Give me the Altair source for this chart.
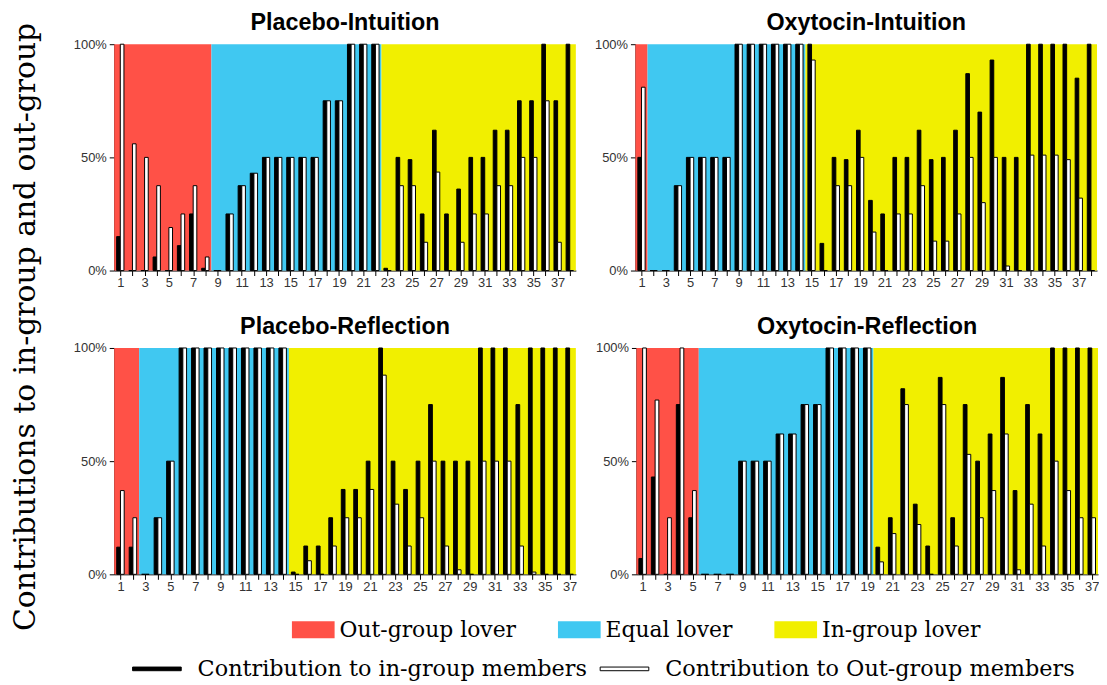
import altair as alt
import pandas as pd

# ---------------- data ----------------
GROUPS = ["Out-group lover", "Equal lover", "In-group lover"]
GROUP_COLORS = ["#FF5147", "#40C8F1", "#F1EF00"]
SERIES = ["Contribution to in-group members", "Contribution to Out-group members"]
SERIES_COLORS = ["black", "white"]

# Placebo-Intuition (38 participants)
pi_title = "Placebo-Intuition"
pi_counts = [8, 14, 16]
pi_in = [0.15, 0, 0, 0.06, 0, 0.11, 0.25, 0.01,
         0, 0.25, 0.375, 0.43, 0.5, 0.5, 0.5, 0.5, 0.5, 0.75, 0.75, 1, 1, 1,
         0.01, 0.5, 0.49, 0.25, 0.62, 0.25, 0.36, 0.5, 0.5, 0.62, 0.62, 0.75, 0.75, 1, 0.75, 1]
pi_out = [1, 0.56, 0.5, 0.375, 0.19, 0.25, 0.375, 0.06,
          0, 0.25, 0.375, 0.43, 0.5, 0.5, 0.5, 0.5, 0.5, 0.75, 0.75, 1, 1, 1,
          0, 0.375, 0.375, 0.125, 0.435, 0, 0.125, 0.25, 0.25, 0.375, 0.375, 0.5, 0.5, 0.75, 0.125, 0]

# Oxytocin-Intuition (38 participants)
oi_title = "Oxytocin-Intuition"
oi_counts = [1, 13, 24]
oi_in = [0.5,
         0, 0, 0.375, 0.5, 0.5, 0.5, 0.5, 1, 1, 1, 1, 1, 1,
         1, 0.12, 0.5, 0.49, 0.62, 0.31, 0.25, 0.5, 0.5, 0.62, 0.49, 0.5, 0.62, 0.87, 0.70, 0.93,
         0.5, 0.5, 1, 1, 1, 1, 0.85, 1]
oi_out = [0.81,
          0, 0, 0.375, 0.5, 0.5, 0.5, 0.5, 1, 1, 1, 1, 1, 1,
          0.93, 0, 0.375, 0.375, 0.5, 0.17, 0, 0.25, 0.25, 0.375, 0.13, 0.13, 0.25, 0.5, 0.30, 0.5,
          0.02, 0, 0.51, 0.51, 0.51, 0.49, 0.32, 0]

# Placebo-Reflection (37 participants)
pr_title = "Placebo-Reflection"
pr_counts = [2, 12, 23]
pr_in = [0.12, 0.12,
         0, 0.25, 0.5, 1, 1, 1, 1, 1, 1, 1, 1, 1,
         0.01, 0.125, 0.125, 0.25, 0.375, 0.375, 0.5, 1, 0.5, 0.375, 0.5, 0.75, 0.5, 0.5, 0.5,
         1, 1, 1, 0.75, 1, 1, 1, 1]
pr_out = [0.37, 0.25,
          0, 0.25, 0.5, 1, 1, 1, 1, 1, 1, 1, 1, 1,
          0, 0.06, 0, 0.125, 0.25, 0.25, 0.375, 0.88, 0.31, 0.125, 0.25, 0.5, 0.125, 0.02, 0,
          0.5, 0.5, 0.5, 0.125, 0.01, 0, 0, 0]

# Oxytocin-Reflection (37 participants)
or_title = "Oxytocin-Reflection"
or_counts = [5, 14, 18]
or_in = [0.07, 0.43, 0, 0.75, 0.25,
         0, 0, 0, 0.5, 0.5, 0.5, 0.62, 0.62, 0.75, 0.75, 1, 1, 1, 1,
         0.12, 0.25, 0.82, 0.31, 0.125, 0.87, 0.25, 0.75, 0.5, 0.62, 0.87, 0.37, 0.75, 0.62,
         1, 1, 1, 1]
or_out = [1, 0.77, 0.25, 1, 0.37,
          0, 0, 0, 0.5, 0.5, 0.5, 0.62, 0.62, 0.75, 0.75, 1, 1, 1, 1,
          0.055, 0.18, 0.75, 0.22, 0, 0.75, 0.125, 0.53, 0.25, 0.37, 0.62, 0.02, 0.31, 0.125,
          0.5, 0.37, 0.25, 0.25]

Y_TITLE = "Contributions to in-group and out-group"

# ---------------- styling ----------------
W, H = 465, 228
SANS = "Liberation Sans"
SERIF = "DejaVu Serif"

group_legend = alt.Legend(
    title=None, orient="none", legendX=179, legendY=568, direction="horizontal",
    symbolType="M-1,-0.4H1V0.4H-1Z", symbolSize=1849, symbolStrokeWidth=0,
    symbolOpacity=1, labelFont=SERIF, labelFontSize=22, labelColor="black",
    labelOffset=5, columnPadding=42, labelLimit=400,
)
series_legend = alt.Legend(
    title=None, orient="none", legendX=18, legendY=604, direction="horizontal",
    symbolType="M-1,-0.075H1V0.075H-1Z", symbolSize=2401,
    symbolStrokeColor="black", symbolStrokeWidth=1,
    labelFont=SERIF, labelFontSize=22.5, labelColor="black",
    labelOffset=16, columnPadding=10, labelLimit=500,
)


def panel(title, counts, ing, outg):
    n = len(ing)
    starts, ends, acc = [], [], 0
    for c in counts:
        starts.append(acc + 0.5)
        acc += c
        ends.append(acc + 0.5)
    regions = pd.DataFrame({"grp": GROUPS, "start": starts, "end": ends})
    bars = pd.DataFrame({
        "p": list(range(1, n + 1)) * 2,
        "series": [SERIES[0]] * n + [SERIES[1]] * n,
        "v": ing + outg,
    })
    xscale = alt.Scale(domain=[0.5, n + 0.5], nice=False, zero=False)
    xaxis = alt.Axis(
        values=list(range(1, n + 1)),
        labelExpr="datum.value % 2 == 1 ? datum.label : ''",
        labelFont=SANS, labelFontSize=13, labelColor="#333", labelAngle=0,
        labelOverlap=False, labelFlush=False, labelPadding=1,
        tickColor="black", tickSize=5, domainColor="black", grid=False, title=None,
    )
    yscale = alt.Scale(domain=[0, 1], nice=False)
    yaxis = alt.Axis(
        values=[0, 0.5, 1], format=".0%", labelFont=SANS, labelFontSize=13,
        labelColor="#333", tickColor="black", tickSize=5, domainColor="black",
        grid=False, title=None, labelPadding=3,
    )
    bg = alt.Chart(regions).mark_rect().encode(
        x=alt.X("start:Q", scale=xscale, axis=xaxis),
        x2="end:Q",
        y=alt.YDatum(0, scale=yscale, title=None),
        y2=alt.Y2Datum(1),
        color=alt.Color("grp:N", scale=alt.Scale(domain=GROUPS, range=GROUP_COLORS),
                        legend=group_legend),
    )
    br = alt.Chart(bars).mark_rect(stroke="black", strokeWidth=1).transform_calculate(
        xa=f"datum.series === '{SERIES[0]}' ? datum.p - 0.3 : datum.p",
        xb=f"datum.series === '{SERIES[0]}' ? datum.p : datum.p + 0.3",
    ).encode(
        x=alt.X("xa:Q", scale=xscale, axis=xaxis),
        x2="xb:Q",
        y=alt.Y("v:Q", scale=yscale, axis=yaxis),
        y2=alt.Y2Datum(0),
        fill=alt.Fill("series:N", scale=alt.Scale(domain=SERIES, range=SERIES_COLORS),
                      legend=series_legend),
    )
    return alt.layer(bg, br).properties(
        width=W, height=H,
        title=alt.TitleParams(title, font=SANS, fontSize=23.5, fontWeight="bold",
                              color="black", offset=4),
    )


row1 = alt.hconcat(panel(pi_title, pi_counts, pi_in, pi_out),
                   panel(oi_title, oi_counts, oi_in, oi_out), spacing=18)
row2 = alt.hconcat(panel(pr_title, pr_counts, pr_in, pr_out),
                   panel(or_title, or_counts, or_in, or_out), spacing=18)

chart = alt.vconcat(row1, row2, spacing=25).properties(
    title=alt.TitleParams(Y_TITLE, orient="left", anchor="middle", font=SERIF,
                          fontSize=30, fontWeight="normal", color="black", offset=33,
                          dx=19),
    padding={"left": 2, "top": 0, "right": 0, "bottom": 0},
).configure_view(strokeWidth=0)

chart.save("out.html", embed_options={"renderer": "svg", "actions": False})
